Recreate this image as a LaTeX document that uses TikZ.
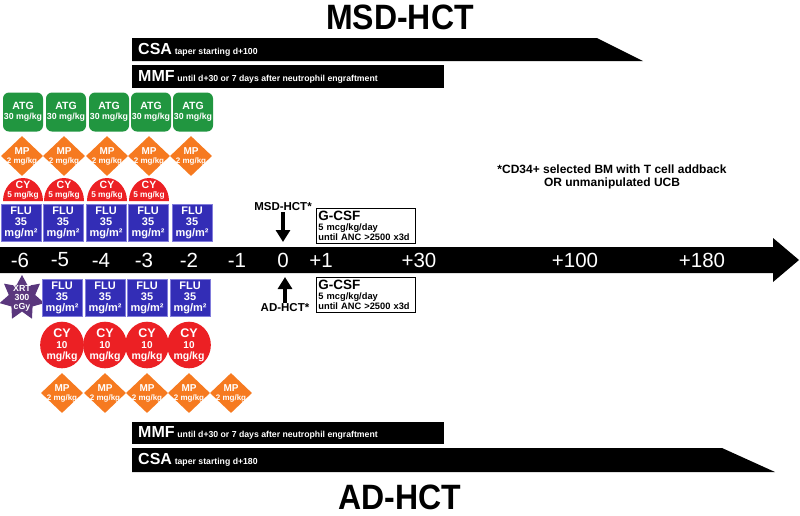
\documentclass[tikz,border=0pt]{standalone}
\usepackage{fontspec}
\setmainfont{Liberation Sans}
\usetikzlibrary{shapes.geometric,arrows.meta}
\definecolor{atggreen}{RGB}{33,150,64}
\definecolor{mporange}{RGB}{246,122,32}
\definecolor{cyred}{RGB}{236,32,36}
\definecolor{flublue}{RGB}{51,45,182}
\definecolor{fluedge}{RGB}{130,125,220}
\definecolor{xrtpurple}{RGB}{90,55,125}

\begin{document}
\begin{tikzpicture}[x=1pt,y=-1pt]
	\tikzstyle{regimen}=[font=\bfseries\fontsize{32}{32}\selectfont]
	\tikzstyle{daylab}=[text=white,font=\fontsize{20.5}{20}\selectfont]
	\tikzstyle{barlab}=[anchor=west,text=white,inner sep=0pt,font=\bfseries]
	\tikzstyle{atg}=[rectangle,rounded corners=6pt,fill=atggreen,minimum width=40pt,minimum height=39pt,inner sep=0pt,text=white,align=center,font=\bfseries\fontsize{10.5}{10.5}\selectfont]
	\tikzstyle{mp}=[diamond,fill=mporange,minimum width=42pt,minimum height=40pt,inner sep=0pt]
	\tikzstyle{mptext}=[text=white,align=center,inner sep=0pt,font=\bfseries\fontsize{10}{9}\selectfont]
	\tikzstyle{cytext}=[text=white,align=center,inner sep=0pt,font=\bfseries\fontsize{10.5}{9}\selectfont]
	\tikzstyle{cy}=[ellipse,fill=cyred,minimum width=40pt,minimum height=45pt,inner sep=0pt,text=white,align=center,font=\bfseries\fontsize{12.5}{11}\selectfont]
	\tikzstyle{flu}=[rectangle,fill=flublue,draw=fluedge,line width=0.8pt,minimum width=40pt,minimum height=37pt,inner sep=0pt,text=white,align=center,font=\bfseries\fontsize{11}{11}\selectfont]
	\tikzstyle{xrt}=[star,star points=7,star point ratio=1.7,fill=xrtpurple,minimum size=46pt,inner sep=0pt]
	\tikzstyle{gcsf}=[rectangle,draw=black,line width=0.8pt,anchor=north west,minimum width=99pt,minimum height=35pt,text width=95pt,inner sep=2pt,align=left,font=\bfseries\fontsize{9.3}{10}\selectfont]
	\tikzstyle{hct}=[font=\bfseries\fontsize{11.5}{12}\selectfont,inner sep=1pt]
	\tikzstyle{hctarrow}=[draw,line width=3.5pt,-{Triangle[length=12pt,width=14pt]}]

	\useasboundingbox (0,0) rectangle (800,515);

	% titles
	\node [regimen] (msdtitle) at (400,17) {\scalebox{1}[1.1]{MSD-HCT}};
	\node [regimen] (adtitle) at (400,497) {\scalebox{1}[1.1]{AD-HCT}};

	% immunosuppression bars
	\fill (132,38) -- (597,38) -- (643,61) -- (132,61) -- cycle;
	\node [barlab] (csatop) at (138,50) {{\fontsize{16}{16}\selectfont CSA} {\fontsize{8.7}{9}\selectfont taper starting d+100}};
	\fill (132,65) rectangle (444,88);
	\node [barlab] (mmftop) at (138,77) {{\fontsize{16}{16}\selectfont MMF} {\fontsize{8.7}{9}\selectfont until d+30 or 7 days after neutrophil engraftment}};
	\fill (132,422) rectangle (444,444);
	\node [barlab] (mmfbot) at (138,433) {{\fontsize{16}{16}\selectfont MMF} {\fontsize{8.7}{9}\selectfont until d+30 or 7 days after neutrophil engraftment}};
	\fill (132,448) -- (722,448) -- (775,472) -- (132,472) -- cycle;
	\node [barlab] (csabot) at (138,460) {{\fontsize{16}{16}\selectfont CSA} {\fontsize{8.7}{9}\selectfont taper starting d+180}};

	% time axis
	\fill (0,247) -- (773,247) -- (773,238) -- (799,260) -- (773,282) -- (773,273) -- (0,273) -- cycle;
	\node [daylab] (dm6) at (20,260) {-6};
	\node [daylab] (dm5) at (60,260) {-5};
	\node [daylab] (dm4) at (101,260) {-4};
	\node [daylab] (dm3) at (144,260) {-3};
	\node [daylab] (dm2) at (189,260) {-2};
	\node [daylab] (dm1) at (237,260) {-1};
	\node [daylab] (d0) at (283,260) {0};
	\node [daylab] (dp1) at (321,260) {+1};
	\node [daylab] (dp30) at (419,260) {+30};
	\node [daylab] (dp100) at (575,260) {+100};
	\node [daylab] (dp180) at (702,260) {+180};

	% MSD-HCT conditioning
	\node [atg] (atg1) at (23,112) {ATG\\{\fontsize{8.8}{9}\selectfont 30 mg/kg}};
	\node [atg] (atg2) at (66,112) {ATG\\{\fontsize{8.8}{9}\selectfont 30 mg/kg}};
	\node [atg] (atg3) at (109,112) {ATG\\{\fontsize{8.8}{9}\selectfont 30 mg/kg}};
	\node [atg] (atg4) at (151,112) {ATG\\{\fontsize{8.8}{9}\selectfont 30 mg/kg}};
	\node [atg] (atg5) at (193,112) {ATG\\{\fontsize{8.8}{9}\selectfont 30 mg/kg}};

	\node [mp] (mpa1) at (22,156) {};
	\node [mp] (mpa2) at (64,156) {};
	\node [mp] (mpa3) at (107,156) {};
	\node [mp] (mpa4) at (149,156) {};
	\node [mp] (mpa5) at (191,156) {};
	\node [mptext] (mpa1t) at (mpa1) {MP\\{\fontsize{8}{8}\selectfont 2 mg/kg}};
	\node [mptext] (mpa2t) at (mpa2) {MP\\{\fontsize{8}{8}\selectfont 2 mg/kg}};
	\node [mptext] (mpa3t) at (mpa3) {MP\\{\fontsize{8}{8}\selectfont 2 mg/kg}};
	\node [mptext] (mpa4t) at (mpa4) {MP\\{\fontsize{8}{8}\selectfont 2 mg/kg}};
	\node [mptext] (mpa5t) at (mpa5) {MP\\{\fontsize{8}{8}\selectfont 2 mg/kg}};

	\fill [cyred] (3,201) arc (180:360:20 and 23) -- cycle;
	\fill [cyred] (44,201) arc (180:360:20 and 23) -- cycle;
	\fill [cyred] (87,201) arc (180:360:20 and 23) -- cycle;
	\fill [cyred] (129,201) arc (180:360:20 and 23) -- cycle;
	\node [cytext] (cya1) at (23,190) {CY\\{\fontsize{8.3}{8}\selectfont 5 mg/kg}};
	\node [cytext] (cya2) at (64,190) {CY\\{\fontsize{8.3}{8}\selectfont 5 mg/kg}};
	\node [cytext] (cya3) at (107,190) {CY\\{\fontsize{8.3}{8}\selectfont 5 mg/kg}};
	\node [cytext] (cya4) at (149,190) {CY\\{\fontsize{8.3}{8}\selectfont 5 mg/kg}};

	\node [flu] (flua1) at (21,223) {FLU\\35\\mg/m²};
	\node [flu] (flua2) at (63,223) {FLU\\35\\mg/m²};
	\node [flu] (flua3) at (106,223) {FLU\\35\\mg/m²};
	\node [flu] (flua4) at (148,223) {FLU\\35\\mg/m²};
	\node [flu] (flua5) at (192,223) {FLU\\35\\mg/m²};

	% AD-HCT conditioning
	\node [xrt] (xrt) at (22,298) {};
	\node [mptext,font=\bfseries\fontsize{8.8}{9}\selectfont] (xrtt) at (xrt) {XRT\\300\\cGy};

	\node [flu] (flub2) at (62,298) {FLU\\35\\mg/m²};
	\node [flu] (flub3) at (105,298) {FLU\\35\\mg/m²};
	\node [flu] (flub4) at (147,298) {FLU\\35\\mg/m²};
	\node [flu] (flub5) at (190,298) {FLU\\35\\mg/m²};

	\node [cy] (cyb2) at (62,345) {CY\\{\fontsize{10}{10}\selectfont 10}\\{\fontsize{10.5}{10}\selectfont mg/kg}};
	\node [cy] (cyb3) at (105,345) {CY\\{\fontsize{10}{10}\selectfont 10}\\{\fontsize{10.5}{10}\selectfont mg/kg}};
	\node [cy] (cyb4) at (147,345) {CY\\{\fontsize{10}{10}\selectfont 10}\\{\fontsize{10.5}{10}\selectfont mg/kg}};
	\node [cy] (cyb5) at (189,345) {CY\\{\fontsize{10}{10}\selectfont 10}\\{\fontsize{10.5}{10}\selectfont mg/kg}};

	\node [mp] (mpb2) at (62,393) {};
	\node [mp] (mpb3) at (105,393) {};
	\node [mp] (mpb4) at (147,393) {};
	\node [mp] (mpb5) at (189,393) {};
	\node [mp] (mpb6) at (231,393) {};
	\node [mptext] (mpb2t) at (mpb2) {MP\\{\fontsize{8}{8}\selectfont 2 mg/kg}};
	\node [mptext] (mpb3t) at (mpb3) {MP\\{\fontsize{8}{8}\selectfont 2 mg/kg}};
	\node [mptext] (mpb4t) at (mpb4) {MP\\{\fontsize{8}{8}\selectfont 2 mg/kg}};
	\node [mptext] (mpb5t) at (mpb5) {MP\\{\fontsize{8}{8}\selectfont 2 mg/kg}};
	\node [mptext] (mpb6t) at (mpb6) {MP\\{\fontsize{8}{8}\selectfont 2 mg/kg}};

	% transplant day
	\node [hct] (msdlab) at (283,207) {MSD-HCT*};
	\coordinate (msdtip) at (283,242);
	\node [hct] (adlab) at (285,308) {AD-HCT*};
	\coordinate (adtip) at (285,277);
	\draw [hctarrow] (msdlab) -- (msdtip);
	\draw [hctarrow] (adlab) -- (adtip);

	\node [gcsf] (gcsftop) at (316,208) {{\fontsize{13.5}{13}\selectfont G-CSF}\\5 mcg/kg/day\\until ANC >2500 x3d};
	\node [gcsf] (gcsfbot) at (316,277) {{\fontsize{13.5}{13}\selectfont G-CSF}\\5 mcg/kg/day\\until ANC >2500 x3d};

	\node [align=center,font=\bfseries\fontsize{12}{13}\selectfont] (graft) at (612,177) {*CD34+ selected BM with T cell addback\\OR unmanipulated UCB};
\end{tikzpicture}
\end{document}
